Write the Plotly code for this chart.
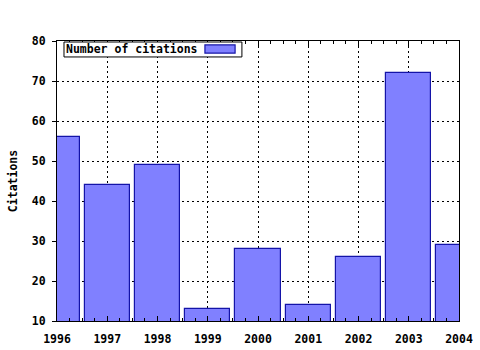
import plotly.graph_objects as go

years = [1996, 1997, 1998, 1999, 2000, 2001, 2002, 2003, 2004]
citations = [56, 44, 49, 13, 28, 14, 26, 72, 29]
series_name = "Number of citations"
y_title = "Citations"

FONT = dict(family="DejaVu Sans Mono", size=11.5, color="black", weight="bold")
DASH = "2px,3px"

fig = go.Figure()
fig.add_trace(go.Bar(
    x=years, y=citations, width=0.9, name=series_name,
    marker=dict(color="#8080ff", line=dict(color="#1414a8", width=1.2)),
    showlegend=False,
))

fig.update_layout(
    width=480, height=350,
    margin=dict(l=57, r=21, t=41, b=29, autoexpand=False),
    paper_bgcolor="white", plot_bgcolor="white",
    font=FONT,
    bargap=0,
)
fig.update_xaxes(
    range=[1996, 2004], tickvals=years, ticktext=[str(y) for y in years],
    ticks="inside", ticklen=5, tickcolor="black", ticklabelstandoff=7,
    showline=True, linecolor="black", linewidth=1, mirror="ticks",
    showgrid=True, gridcolor="black", griddash=DASH, gridwidth=1,
    minor=dict(dtick=0.25, ticks="inside", ticklen=3, tickcolor="black", showgrid=False),
    tickfont=FONT, zeroline=False, automargin=False,
)
fig.update_yaxes(
    range=[10, 80], dtick=10,
    ticks="outside", ticklen=4, tickcolor="black", ticklabelstandoff=4,
    showline=True, linecolor="black", linewidth=1, mirror=True,
    showgrid=True, gridcolor="black", griddash=DASH, gridwidth=1,
    tickfont=FONT, zeroline=False, automargin=False,
    title=dict(text=y_title, font=FONT, standoff=11),
)

# legend box (gnuplot style: text then swatch)
fig.add_shape(type="rect", xref="paper", yref="paper",
              x0=0.0174, x1=0.460, y0=0.943, y1=0.9964,
              line=dict(color="black", width=1), fillcolor="white", layer="above")
fig.add_shape(type="rect", xref="paper", yref="paper",
              x0=0.368, x1=0.443, y0=0.957, y1=0.986,
              line=dict(color="#1414a8", width=1.2), fillcolor="#8080ff", layer="above")
fig.add_annotation(xref="paper", yref="paper", x=0.0174, y=0.9697,
                   xanchor="left", yanchor="middle", text=series_name,
                   showarrow=False, font=FONT)

fig.write_html("out.html")
